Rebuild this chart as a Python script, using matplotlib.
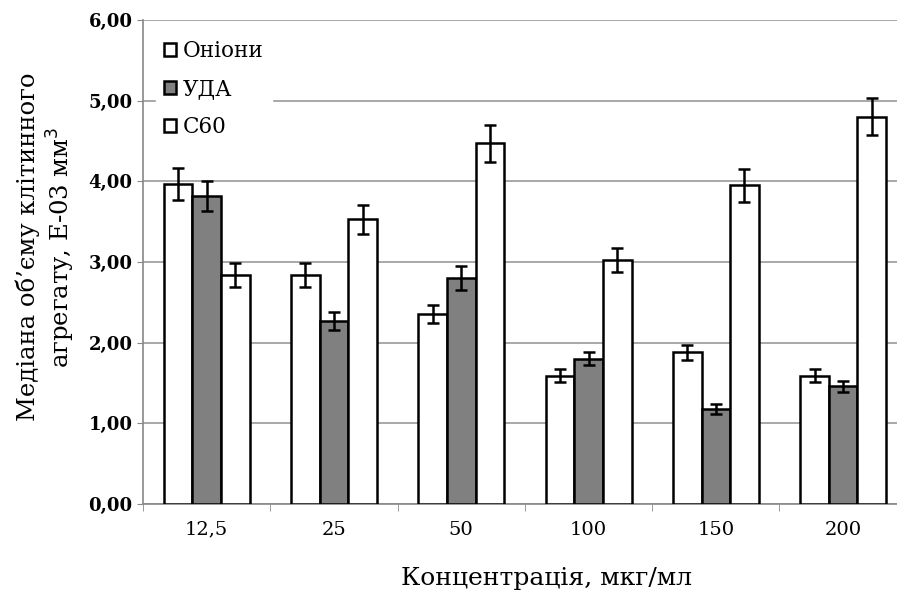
import matplotlib
matplotlib.use("Agg")
import matplotlib.pyplot as plt
import numpy as np

categories = ["12,5", "25", "50", "100", "150", "200"]
series_names = ["Оніони", "УДА", "С60"]
onions = [3.97, 2.84, 2.36, 1.59, 1.88, 1.59]
onions_err = [0.20, 0.15, 0.11, 0.08, 0.09, 0.08]
uda = [3.82, 2.27, 2.80, 1.80, 1.18, 1.46]
uda_err = [0.19, 0.11, 0.15, 0.08, 0.06, 0.07]
c60 = [2.84, 3.53, 4.47, 3.02, 3.95, 4.80]
c60_err = [0.15, 0.18, 0.23, 0.15, 0.20, 0.23]
yticks = [0, 1, 2, 3, 4, 5, 6]
ytick_labels = ["0,00", "1,00", "2,00", "3,00", "4,00", "5,00", "6,00"]

plt.rcParams['font.family'] = ['DejaVu Serif']

fig = plt.figure(figsize=(8.97, 5.90), dpi=100)
ax = fig.add_axes([143/897, 86/590, 6*127.3/897, 484/590])

x = np.arange(len(categories))
w = 0.225
colors = ["white", "#808080", "white"]
vals = [onions, uda, c60]
errs = [onions_err, uda_err, c60_err]
for i, (v, e, c, n) in enumerate(zip(vals, errs, colors, series_names)):
    ax.bar(x + (i - 1) * w, v, w, color=c, edgecolor="black", linewidth=1.8,
           yerr=e, capsize=4, error_kw=dict(elinewidth=1.8, capthick=1.8, ecolor="black"),
           label=n, zorder=3)

ax.set_xlim(-0.5, len(categories) - 0.5)
ax.set_ylim(0, 6)
ax.set_yticks(yticks)
ax.set_yticklabels(ytick_labels, fontsize=13, fontweight="bold")
ax.set_xticks(x)
ax.set_xticklabels(categories, fontsize=14)
ax.set_xticks(np.arange(len(categories) + 1) - 0.5, minor=True)
ax.tick_params(axis="x", which="major", length=0, pad=12)
ax.tick_params(axis="x", which="minor", length=5, color="#888888")
ax.tick_params(axis="y", length=4, color="#888888")
ax.yaxis.grid(True, color="#999999", linewidth=1.2, zorder=0)
ax.set_axisbelow(True)
for s in ["top", "right"]:
    ax.spines[s].set_visible(False)
ax.spines["left"].set_color("#888888")
ax.spines["bottom"].set_color("#888888")
ax.spines["left"].set_linewidth(1.2)
ax.spines["bottom"].set_linewidth(1.2)

fig.text(546/897, 1 - 578/590, "Концентрація, мкг/мл", fontsize=18,
         ha="center", va="center")
fig.text(46/897, 1 - 247/590, "Медіана об’єму клітинного\nагрегату, E-03 мм$^3$",
         fontsize=17.5, ha="center", va="center", rotation=90, multialignment="center")

leg = ax.legend(loc="upper left", bbox_to_anchor=(0.008, 0.99), frameon=True,
                fontsize=15.5, handlelength=0.55, handleheight=0.55, handletextpad=0.3,
                labelspacing=0.75, borderaxespad=0.3)
leg.get_frame().set_edgecolor("white")
leg.get_frame().set_facecolor("white")
leg.get_frame().set_alpha(1)
leg.get_frame().set_boxstyle("square", pad=0.0)

fig.savefig("out.png", dpi=100)
